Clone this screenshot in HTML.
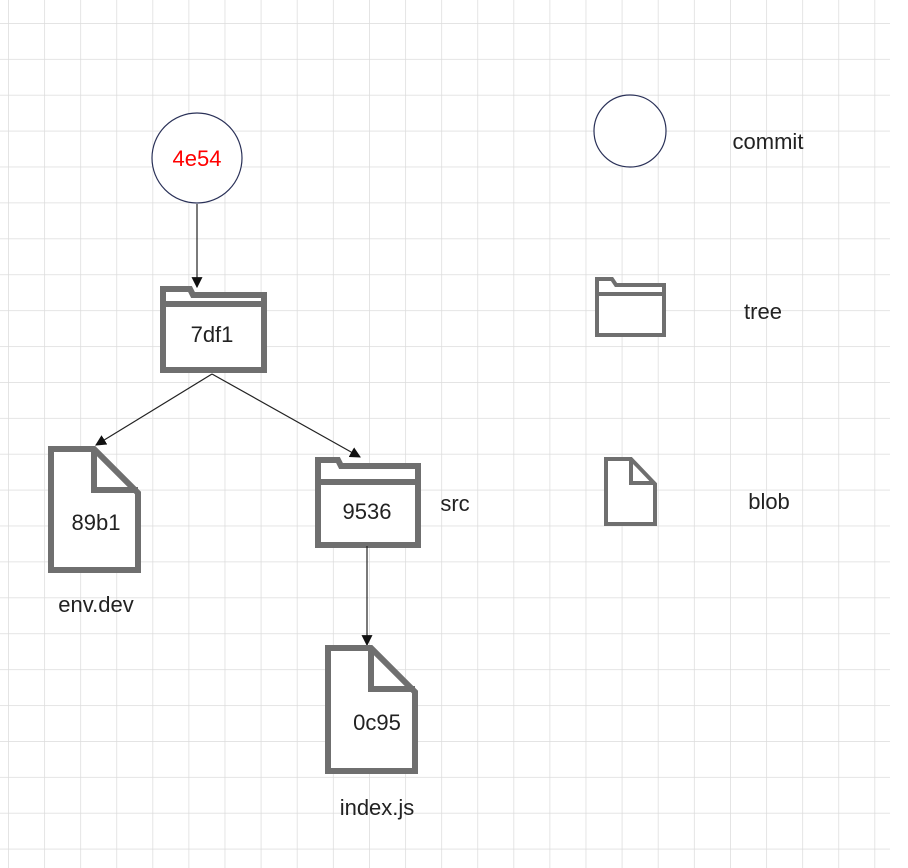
<!DOCTYPE html>
<html><head><meta charset="utf-8"><style>
html,body{margin:0;padding:0;background:#fff}
svg{display:block}
text{font-family:"Liberation Sans",sans-serif}
</style></head><body>
<svg width="908" height="868" viewBox="0 0 908 868" xmlns="http://www.w3.org/2000/svg">
<defs>
<pattern id="g" x="8" y="23" width="36.1" height="35.9" patternUnits="userSpaceOnUse">
<path d="M0,0 V36 M0,0 H37" stroke="#dcdcdc" stroke-width="1.5" fill="none"/>
</pattern>
<marker id="a" viewBox="0 0 10 10" refX="9" refY="5" markerWidth="11" markerHeight="11" orient="auto" markerUnits="userSpaceOnUse">
<path d="M0,0 L10,5 L0,10 Z" fill="#111"/>
</marker>
</defs>
<rect width="890" height="868" fill="url(#g)"/>
<circle cx="197" cy="158" r="45" fill="#fff" stroke="#2a3158" stroke-width="1.2"/>
<text x="197" y="166" font-size="22" fill="#ff0000" text-anchor="middle">4e54</text>
<line x1="197" y1="204" x2="197" y2="287" stroke="#222" stroke-width="1.2" marker-end="url(#a)"/>
<path d="M163,289 H190 L193,295 H264 V370 H163 Z" fill="#fff" stroke="#6f6f6f" stroke-width="6"/>
<line x1="163" y1="304" x2="264" y2="304" stroke="#6f6f6f" stroke-width="6"/>
<text x="212" y="342" font-size="22" fill="#222" text-anchor="middle">7df1</text>
<line x1="212" y1="374" x2="96" y2="445" stroke="#222" stroke-width="1.2" marker-end="url(#a)"/>
<line x1="212" y1="374" x2="360" y2="457" stroke="#222" stroke-width="1.2" marker-end="url(#a)"/>
<path d="M51,449 H94 L138,493 V570 H51 Z" fill="#fff" stroke="#6f6f6f" stroke-width="6"/>
<path d="M94,449 V490 H138" fill="none" stroke="#6f6f6f" stroke-width="6"/>
<text x="96" y="530" font-size="22" fill="#222" text-anchor="middle">89b1</text>
<text x="96" y="612" font-size="22" fill="#222" text-anchor="middle">env.dev</text>
<path d="M318,460 H338 L341,466 H418 V545 H318 Z" fill="#fff" stroke="#6f6f6f" stroke-width="6"/>
<line x1="318" y1="482" x2="418" y2="482" stroke="#6f6f6f" stroke-width="6"/>
<text x="367" y="519" font-size="22" fill="#222" text-anchor="middle">9536</text>
<text x="455" y="511" font-size="22" fill="#222" text-anchor="middle">src</text>
<line x1="367" y1="546" x2="367" y2="645" stroke="#222" stroke-width="1.2" marker-end="url(#a)"/>
<path d="M328,648 H371 L415,692 V771 H328 Z" fill="#fff" stroke="#6f6f6f" stroke-width="6"/>
<path d="M371,648 V689 H415" fill="none" stroke="#6f6f6f" stroke-width="6"/>
<text x="377" y="730" font-size="22" fill="#222" text-anchor="middle">0c95</text>
<text x="377" y="815" font-size="22" fill="#222" text-anchor="middle">index.js</text>
<circle cx="630" cy="131" r="36" fill="#fff" stroke="#2a3158" stroke-width="1.2"/>
<text x="768" y="149" font-size="22" fill="#222" text-anchor="middle">commit</text>
<path d="M597,279 H612 L616,285 H664 V335 H597 Z" fill="#fff" stroke="#6f6f6f" stroke-width="4"/>
<line x1="597" y1="294" x2="664" y2="294" stroke="#6f6f6f" stroke-width="4"/>
<text x="763" y="319" font-size="22" fill="#222" text-anchor="middle">tree</text>
<path d="M606,459 H631 L655,484 V524 H606 Z" fill="#fff" stroke="#6f6f6f" stroke-width="4"/>
<path d="M631,459 V483 H655" fill="none" stroke="#6f6f6f" stroke-width="4"/>
<text x="769" y="509" font-size="22" fill="#222" text-anchor="middle">blob</text>
</svg>
</body></html>
